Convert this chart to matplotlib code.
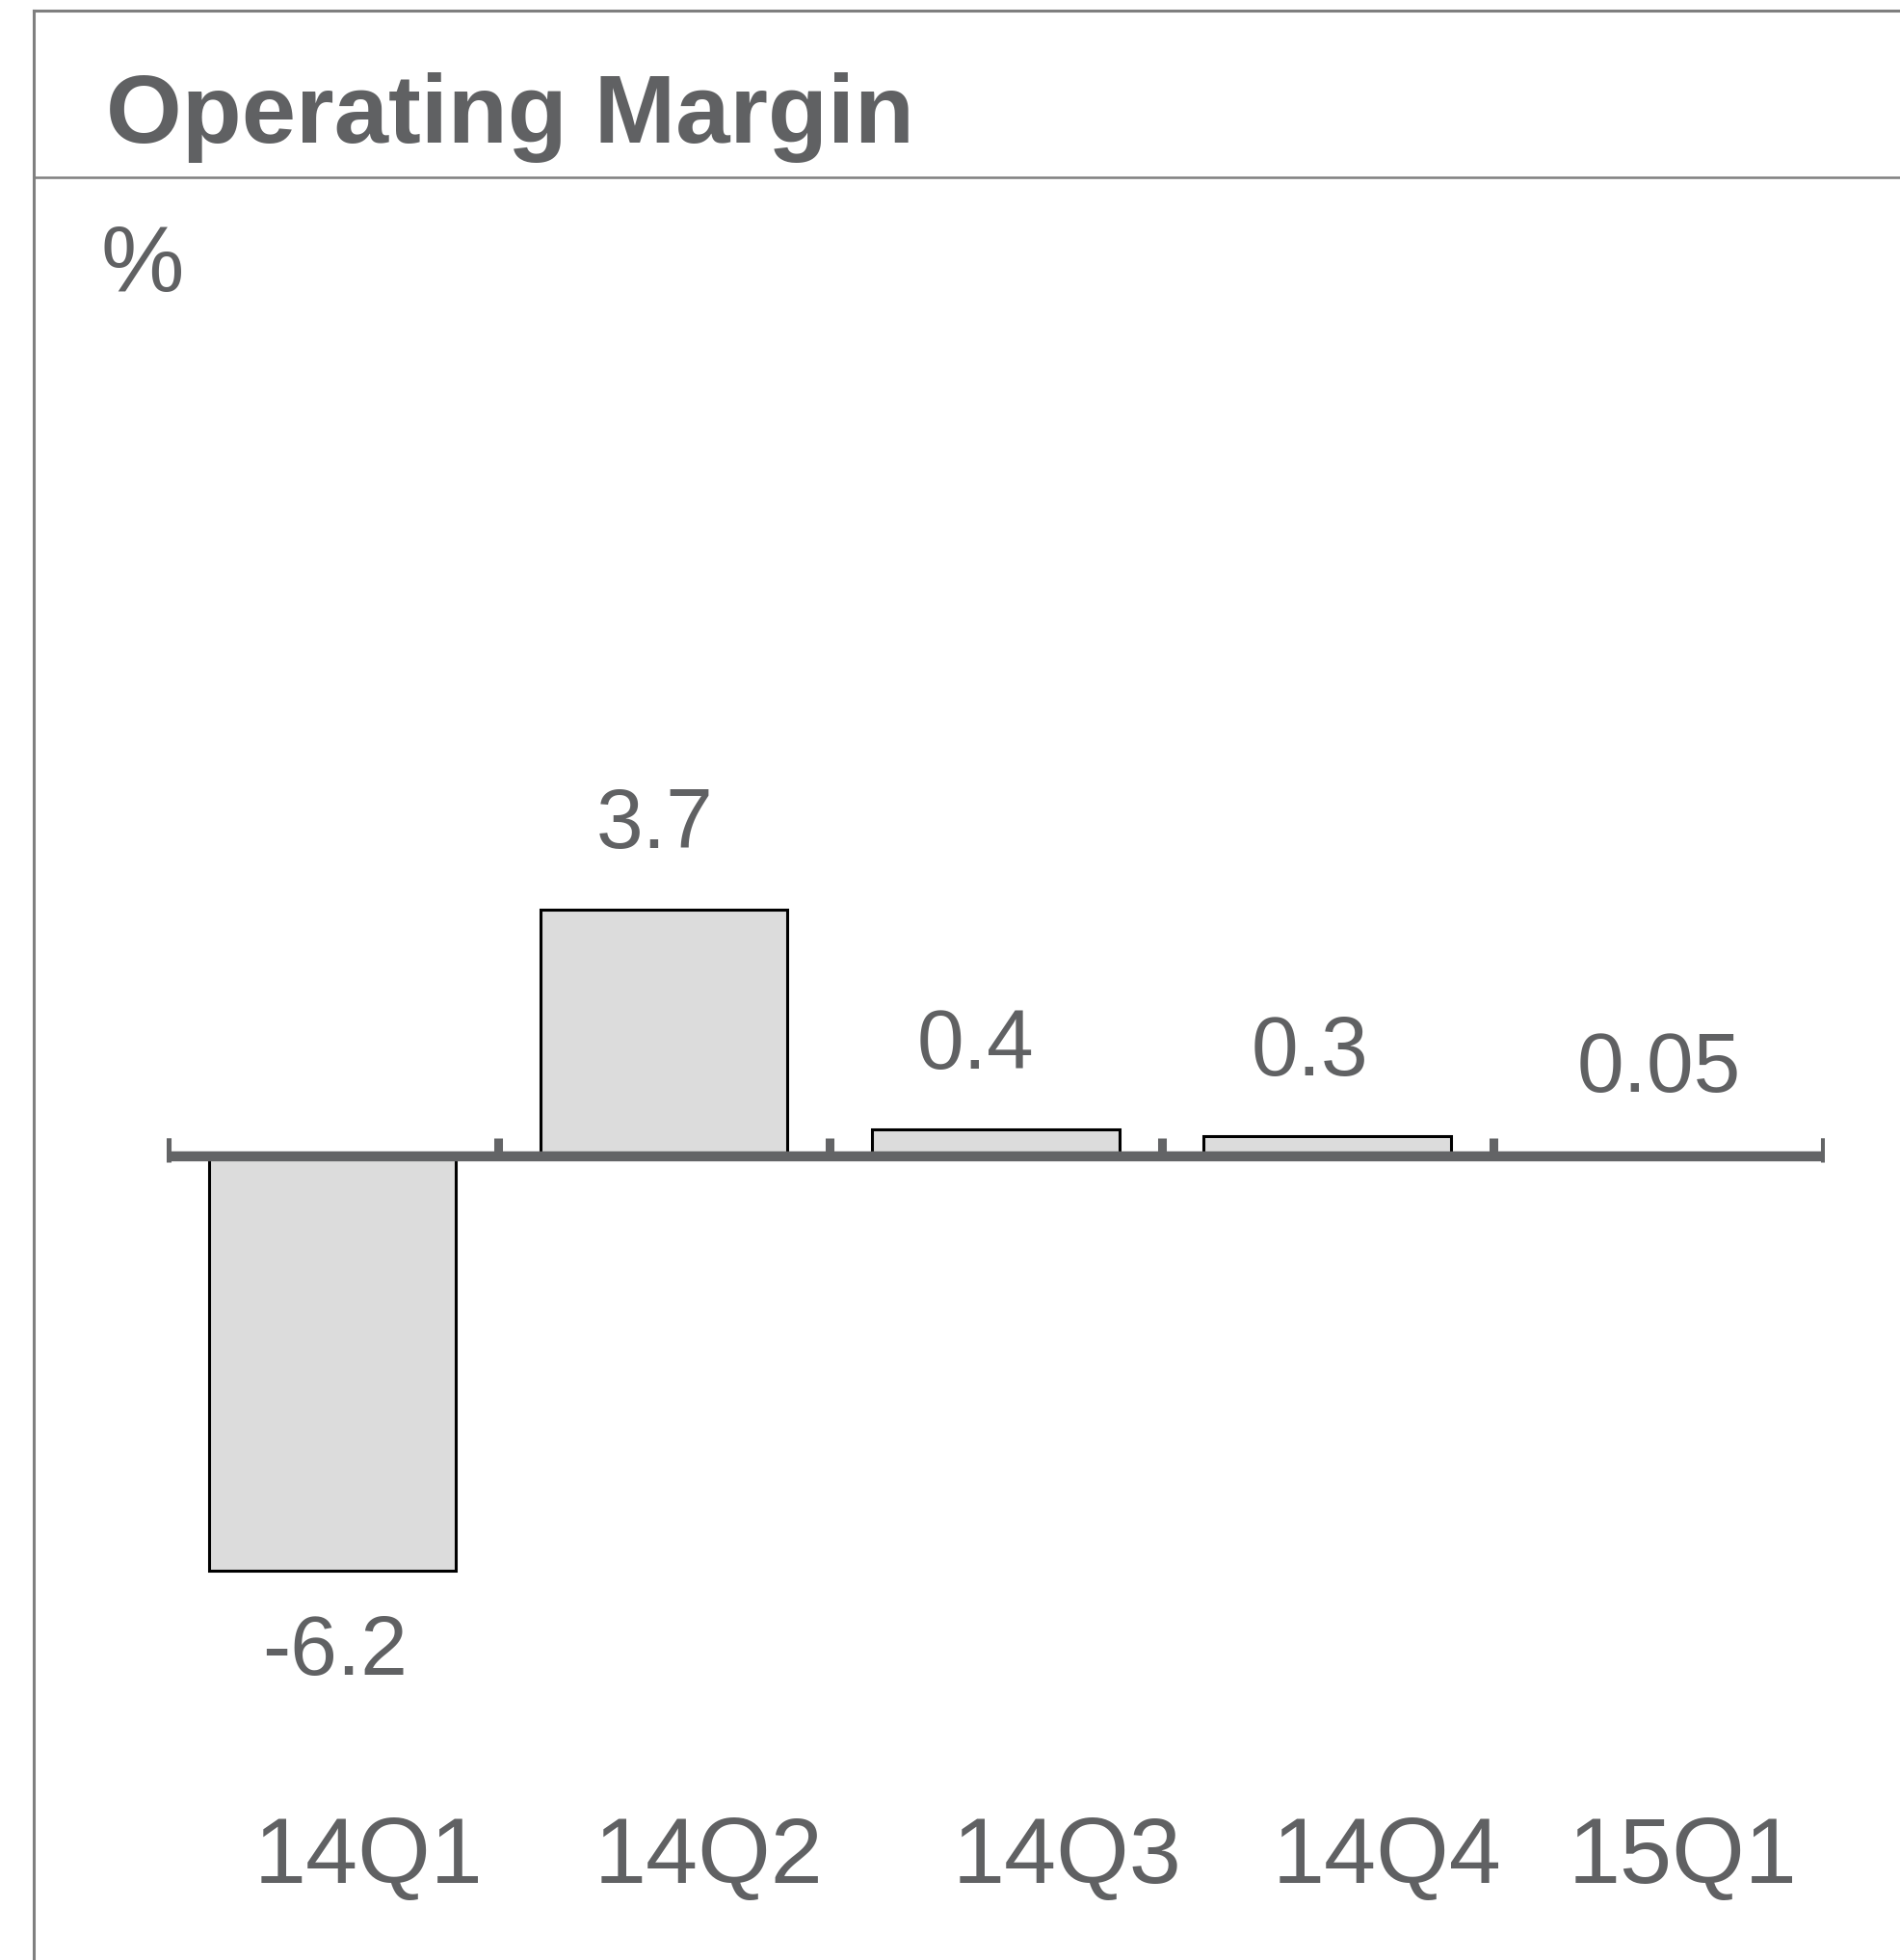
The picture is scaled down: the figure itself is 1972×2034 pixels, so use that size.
import matplotlib
matplotlib.use("Agg")
import matplotlib.pyplot as plt
from matplotlib.lines import Line2D
import matplotlib.transforms as mtransforms

plt.rcParams['font.family'] = ['Liberation Sans', 'DejaVu Sans']

# ---- data ----
categories = ["14Q1", "14Q2", "14Q3", "14Q4", "15Q1"]
values = [-6.2, 3.7, 0.4, 0.3, 0.05]
value_labels = ["-6.2", "3.7", "0.4", "0.3", "0.05"]
title = "Operating Margin"
unit = "%"

# ---- layout (not data) ----
cat_label_shift = [0.111, 0.136, 0.215, 0.181, 0.072]   # in category units
val_label_shift = [2, -7, -15, -13, 0]                   # in points

TEXT = "#606163"
AXIS = "#636466"
FRAME = "#7f7f7f"
BAR = "#dcdcdc"

W, H = 1972, 2034
DPI = 100
fig = plt.figure(figsize=(W / DPI, H / DPI), dpi=DPI)
fig.patch.set_facecolor("white")

# frame lines (top, left) and header separator
fig.add_artist(Line2D([35 / W, 1.0], [1 - 10.5 / H, 1 - 10.5 / H], color=FRAME, lw=2.2, transform=fig.transFigure))
fig.add_artist(Line2D([35 / W, 35 / W], [0.0, 1 - 10.5 / H], color=FRAME, lw=2.2, transform=fig.transFigure))
fig.add_artist(Line2D([35 / W, 1.0], [1 - 184 / H, 1 - 184 / H], color=FRAME, lw=1.8, transform=fig.transFigure))

fig.text(110 / W, 1 - 148 / H, title, fontsize=73, fontweight="bold", color=TEXT, ha="left", va="baseline")
fig.text(104 / W, 1 - 302 / H, unit, fontsize=70, color=TEXT, ha="left", va="baseline")

# axes: x from -0.5..4.5 maps to 172.6..1894.2 px; y 10..-10 maps to 507.3..1892.9 px (top-down)
left = 172.6 / W
right = 1894.2 / W
bottom = (H - 1892.9) / H
top = (H - 507.3) / H
ax = fig.add_axes([left, bottom, right - left, top - bottom])
ax.set_xlim(-0.5, len(categories) - 0.5)
ax.set_ylim(-10, 10)
ax.axis("off")

x = list(range(len(categories)))
ax.bar(x, values, width=0.745, color=BAR, edgecolor="black", linewidth=2.2, zorder=2)

# zero line and boundary ticks
ax.axhline(0, color=AXIS, lw=7.5, solid_capstyle="butt", zorder=3)
bounds = [i - 0.5 for i in range(len(categories) + 1)]
ax.vlines(bounds, 0, 0.28, color=AXIS, lw=6.5, zorder=3)
ax.vlines([bounds[0], bounds[-1]], -0.08, 0.28, color=AXIS, lw=6.5, zorder=3)

# value labels
for xi, v, lab, dx in zip(x, values, value_labels, val_label_shift):
    off = 62 if v >= 0 else -62
    ax.annotate(lab, (xi, v), xytext=(dx, off), textcoords="offset points",
                ha="center", va="center", fontsize=63, color=TEXT, zorder=4)

# category labels
trans = mtransforms.blended_transform_factory(ax.transData, fig.transFigure)
for xi, c, dx in zip(x, categories, cat_label_shift):
    ax.text(xi + dx, 1 - 1929 / H, c, transform=trans, ha="center", va="center",
            fontsize=70, color=TEXT, clip_on=False)

fig.savefig("out.png", dpi=DPI, facecolor="white")
